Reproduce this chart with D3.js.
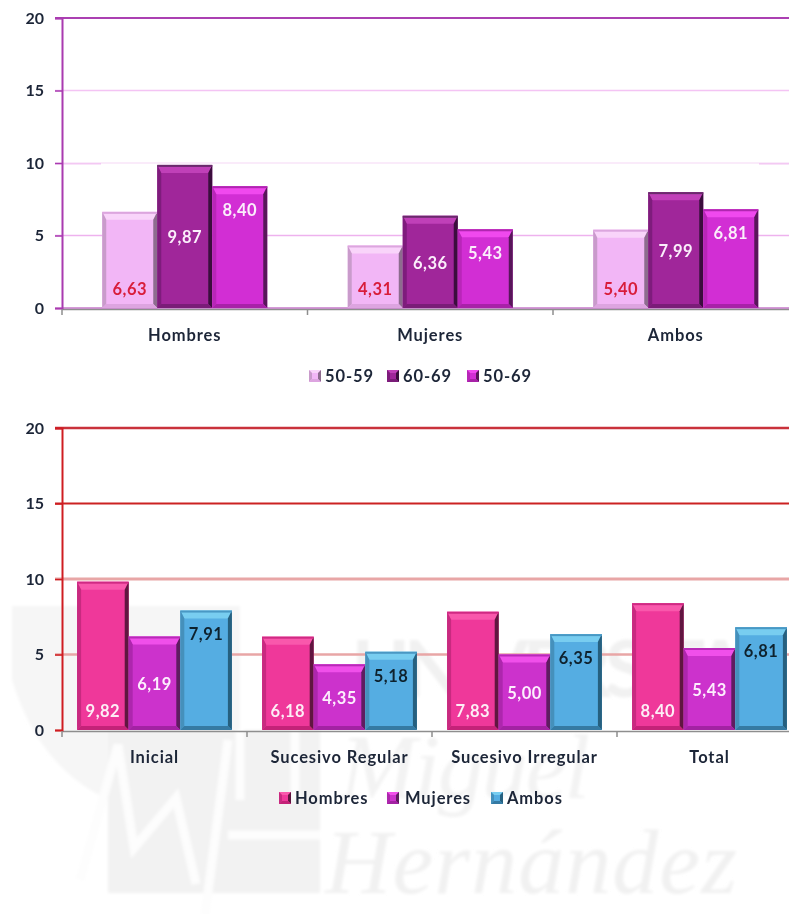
<!DOCTYPE html>
<html><head><meta charset="utf-8">
<script src="https://cdnjs.cloudflare.com/ajax/libs/d3/7.8.5/d3.min.js"></script>
<style>html,body{margin:0;padding:0;background:#fff;overflow:hidden}svg{display:block}
text{font-family:Lato,"Open Sans",sans-serif;font-weight:700}</style></head><body>
<script>
const topCategories = ["Hombres","Mujeres","Ambos"];
const topSeries = ["50-59","60-69","50-69"];
const top5059 = [6.63,4.31,5.40];
const top6069 = [9.87,6.36,7.99];
const top5069 = [8.40,5.43,6.81];
const bottomCategories = ["Inicial","Sucesivo Regular","Sucesivo Irregular","Total"];
const bottomSeries = ["Hombres","Mujeres","Ambos"];
const bottomHombres = [9.82,6.18,7.83,8.40];
const bottomMujeres = [6.19,4.35,5.00,5.43];
const bottomAmbos = [7.91,5.18,6.35,6.81];
const yTicks = [0,5,10,15,20];

const W=789,H=914;
const svg=d3.select("body").append("svg").attr("width",W).attr("height",H);
const defs=svg.append("defs");
defs.append("filter").attr("id","soft").attr("x","-5%").attr("y","-5%").attr("width","110%").attr("height","110%")
  .append("feGaussianBlur").attr("stdDeviation",0.5);
defs.append("filter").attr("id","wm").append("feGaussianBlur").attr("stdDeviation",1.5);
const root=svg.append("g").attr("filter","url(#soft)");

/* watermark */
const wm=root.append("g").attr("filter","url(#wm)");
wm.append("path").attr("d","M12 606H240V893H110V800Q40 770 12 680Z").attr("fill","#f6f6f6");
wm.append("rect").attr("x",108).attr("y",730).attr("width",212).attr("height",163).attr("fill","#f2f2f2");
wm.append("path").attr("d","M80 880L118 745L134 848L176 798L196 884 M205 915L228 740 M228 835H320 M240 800V730 M295 800V730")
  .attr("fill","none").attr("stroke","#fdfdfd").attr("stroke-width",9);
wm.append("text").attr("x",352).attr("y",697).attr("fill","#f1f1f1").attr("font-size",78).attr("textLength",432).text("UNIVERSITAS");
wm.append("text").attr("x",340).attr("y",798).attr("fill","#f3f3f3").attr("font-size",92).attr("font-style","italic")
  .style("font-family","'Liberation Serif',serif").style("font-weight",400).attr("textLength",250).text("Miguel");
wm.append("text").attr("x",325).attr("y",893).attr("fill","#f1f1f1").attr("font-size",92).attr("font-style","italic")
  .style("font-family","'Liberation Serif',serif").style("font-weight",400).attr("textLength",412).text("Hernández");

function chart(o){
  const y=d3.scaleLinear().domain([0,20]).range([o.y0,o.y20]);
  const x=d3.scaleBand().domain(o.categories).range([o.x0,o.x0+o.step*o.categories.length]);
  const inner=d3.scaleBand().domain(o.series).range([-o.barW*1.5,o.barW*1.5]);
  const g=root.append("g");
  o.grid.forEach(s=>{
    g.append("line").attr("x1",o.x0-7).attr("x2",W).attr("y1",y(s.v)).attr("y2",y(s.v))
      .attr("stroke",s.c).attr("stroke-width",s.w);
    (s.seg||[]).forEach(p=>g.append("line").attr("x1",p[0]).attr("x2",p[1]).attr("y1",y(s.v)+.8).attr("y2",y(s.v)+.8)
      .attr("stroke",s.segc).attr("stroke-width",s.w));
  });
  g.append("line").attr("x1",o.x0).attr("x2",W).attr("y1",o.y0+1.5).attr("y2",o.y0+1.5).attr("stroke","#8e8e8e").attr("stroke-width",1.6);
  if(o.basePurple) g.append("line").attr("x1",o.x0).attr("x2",W).attr("y1",o.y0).attr("y2",o.y0).attr("stroke",o.axis).attr("stroke-width",1.2);
  const ay=g.append("g").attr("transform",`translate(${o.x0},0)`).call(d3.axisLeft(y).tickValues(yTicks).tickSize(7));
  ay.select(".domain").attr("stroke",o.axis).attr("stroke-width",2);
  ay.selectAll("line").attr("stroke",o.axis).attr("stroke-width",1.5);
  ay.selectAll("text").attr("fill","#1e2638").style("font-size","16px").style("font-family","Lato").attr("x",-18);
  const ax=g.append("g").attr("transform",`translate(0,${o.y0+1})`).call(d3.axisBottom(x).tickSize(0).tickPadding(20));
  ax.select(".domain").remove();
  ax.selectAll("text").attr("fill","#1e2638").style("font-size","16.5px").style("font-family","Lato").style("letter-spacing",".9px");
  d3.range(o.categories.length+1).forEach(i=>{
    const px=x.range()[0]+x.step()*i;
    g.append("line").attr("x1",px).attr("x2",px).attr("y1",o.y0+1).attr("y2",o.y0+7).attr("stroke","#8e8e8e").attr("stroke-width",1.5);
  });
  o.series.forEach((name,si)=>{
    const st=o.styles[si], vals=o.values[si];
    const sg=g.append("g").attr("class","series");
    vals.forEach((v,i)=>{
      const bx=x(o.categories[i])+x.bandwidth()/2+inner(name), by=y(v), bw=inner.bandwidth(), bh=y(0)-y(v);
      bevel(sg,bx,by,bw,bh,st,8,4);
      const ly=st.label==="base"?o.y0-19:st.label==="center"?by+bh/2+1:by+24;
      sg.append("text").attr("x",bx+bw/2).attr("y",ly).attr("dy",".36em").attr("text-anchor","middle")
        .attr("fill",st.text).style("font-size","16.5px").style("letter-spacing",".5px").text(d3.format(".2f")(v).replace(".",","));
    });
  });
  o.series.forEach((name,si)=>{
    const lg=o.legend[si];
    bevel(g,lg.sx,o.legendY-6,12,12,o.styles[si],3,3);
    g.append("text").attr("x",lg.tx).attr("y",o.legendY).attr("dy",".36em").attr("fill","#1e2638")
      .style("font-size","16.5px").style("letter-spacing",".9px").text(name);
  });
}
function bevel(g,x,y,w,h,s,bt,bs){
  const X=x+w,Y=y+h;
  const poly=(pts,c)=>g.append("polygon").attr("points",pts.map(p=>p.join(",")).join(" ")).attr("fill",c);
  g.append("rect").attr("x",x).attr("y",y).attr("width",w).attr("height",h).attr("fill",s.face);
  poly([[x,y],[X,y],[X-bs,y+bt],[x+bs,y+bt]],s.top);
  poly([[x,y],[x+bs,y+bt],[x+bs,Y-bs],[x,Y]],s.left);
  poly([[X,y],[X-bs,y+bt],[X-bs,Y-bs],[X,Y]],s.right);
  poly([[x,Y],[x+bs,Y-bs],[X-bs,Y-bs],[X,Y]],s.bottom);
  if(h>14) g.append("rect").attr("x",x).attr("y",y).attr("width",w).attr("height",2).attr("fill",s.edge);
}
const topStyles=[
 {face:"#f2b6f6",top:"#f9d4fa",left:"#c99bcb",right:"#8d6c8e",bottom:"#dda4e0",edge:"#dca6de",text:"#d81e3a",label:"base"},
 {face:"#a0269a",top:"#c040b8",left:"#7e1c7c",right:"#3a0f3c",bottom:"#7a1a78",edge:"#6a2a6c",text:"#fbeefb",label:"center"},
 {face:"#d22fd4",top:"#f048ee",left:"#b826b8",right:"#58195a",bottom:"#a820a8",edge:"#b028b0",text:"#fbeefb",label:"end"}];
const botStyles=[
 {face:"#ef389a",top:"#f958ac",left:"#c82a80",right:"#611640",bottom:"#c42478",edge:"#d02c84",text:"#fdeef6",label:"base"},
 {face:"#cc30cc",top:"#f050ea",left:"#ad27ad",right:"#5e1a60",bottom:"#a324a3",edge:"#b82cb8",text:"#fdeefd",label:"center"},
 {face:"#55ade2",top:"#78cdf0",left:"#4590bb",right:"#28607f",bottom:"#347aa3",edge:"#4a98c4",text:"#10222e",label:"end"}];
chart({categories:topCategories,series:topSeries,values:[top5059,top6069,top5069],styles:topStyles,
  x0:62,step:245.5,barW:55,y0:308,y20:18,axis:"#a93bb0",basePurple:true,legendY:376,
  grid:[{v:20,c:"#ab3fb2",w:2},{v:15,c:"#f4c4f4",w:1.6},{v:10,c:"#f9e4f9",w:1.5,seg:[[55,101],[759,789]],segc:"#f3c8f3"},{v:5,c:"#eeb2ee",w:1.4}],
  legend:[{sx:309,tx:325},{sx:387,tx:403},{sx:467,tx:483}]});
chart({categories:bottomCategories,series:bottomSeries,values:[bottomHombres,bottomMujeres,bottomAmbos],styles:botStyles,
  x0:62,step:185,barW:51.6,y0:730,y20:428,axis:"#cf1f22",basePurple:false,legendY:798,
  grid:[{v:20,c:"#c9303a",w:2.4},{v:15,c:"#cc2020",w:2},{v:10,c:"#e8a6a6",w:3},{v:5,c:"#e8a6a6",w:2.6}],
  legend:[{sx:279,tx:295},{sx:387,tx:405},{sx:491,tx:507}]});
</script></body></html>
